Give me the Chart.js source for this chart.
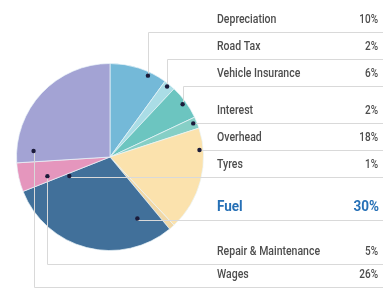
<!DOCTYPE html>
<html>
<head>
<meta charset="utf-8">
<script src="https://cdn.jsdelivr.net/npm/chart.js@4/dist/chart.umd.min.js"></script>
<style>
html,body{margin:0;padding:0;background:#ffffff;}
#wrap{width:383px;height:289px;position:relative;}
</style>
</head>
<body>
<div id="wrap"><canvas id="c"></canvas></div>
<script>
// ---- data ----
const categories = ["Depreciation","Road Tax","Vehicle Insurance","Interest","Overhead","Tyres","Fuel","Repair & Maintenance","Wages"];
const shares = [10, 2, 6, 2, 18, 1, 30, 5, 26];
const valueLabels = ["10%","2%","6%","2%","18%","1%","30%","5%","26%"];

// ---- styling ----
const sliceColors = ["#74b9d8","#aadde6","#6cc5c0","#86cfc6","#fbe2ad","#f1d8a6","#41709a","#e596bd","#a3a3d4"];
// leader anchors: angle (deg clockwise from top) and fraction of radius
const anchorAngles = [25, 39, 54, 68, 85.5, 245, 156, 253, 274.5];
const anchorRadii  = [0.96, 0.97, 0.96, 0.96, 0.96, 0.48, 0.72, 0.70, 0.82];
const rowLines = [32, 59, 86, 123, 150, 177, 220, 264, 287];

function narrowText(ctx, text, x, y, align, sx) {
  ctx.save();
  ctx.translate(x, y);
  ctx.scale(sx, 1);
  ctx.textAlign = align;
  ctx.fillText(text, 0, 0);
  ctx.restore();
}

const leaderPlugin = {
  id: 'leaders',
  afterDraw(chart) {
    const ctx = chart.ctx;
    const arc = chart.getDatasetMeta(0).data[0];
    const cx = arc.x, cy = arc.y, R = arc.outerRadius;
    const rightEdge = 383, labelX = 217, valueX = 378;
    ctx.save();
    ctx.strokeStyle = '#d9d9d9';
    ctx.lineWidth = 1;
    categories.forEach((c, i) => {
      const a = anchorAngles[i] * Math.PI / 180;
      const r = R * anchorRadii[i];
      const dx = Math.round(cx + r * Math.sin(a)) + 0.5;
      const dy = Math.round(cy - r * Math.cos(a)) + 0.5;
      const ry = rowLines[i] + 0.5;
      ctx.beginPath();
      ctx.moveTo(dx, dy);
      ctx.lineTo(dx, ry);
      ctx.lineTo(rightEdge, ry);
      ctx.stroke();
    });
    ctx.fillStyle = '#1b1b3a';
    categories.forEach((c, i) => {
      const a = anchorAngles[i] * Math.PI / 180;
      const r = R * anchorRadii[i];
      ctx.beginPath();
      ctx.arc(cx + r * Math.sin(a), cy - r * Math.cos(a), 2.2, 0, Math.PI * 2);
      ctx.fill();
    });
    ctx.textBaseline = 'middle';
    categories.forEach((c, i) => {
      const isFuel = c === 'Fuel';
      const ty = rowLines[i] - (isFuel ? 13 : 12.5);
      if (isFuel) {
        ctx.fillStyle = '#2670b6';
        ctx.font = 'bold 15px Roboto, "DejaVu Sans", sans-serif';
        narrowText(ctx, c, labelX, ty, 'left', 0.9);
        narrowText(ctx, valueLabels[i], valueX + 1, ty, 'right', 0.9);
      } else {
        ctx.fillStyle = '#4d4d4d';
        ctx.font = '500 12.5px Roboto, "DejaVu Sans", sans-serif';
        narrowText(ctx, c, labelX, ty, 'left', 0.84);
        narrowText(ctx, valueLabels[i], valueX, ty, 'right', 0.8);
      }
    });
    ctx.restore();
  }
};

new Chart(document.getElementById('c'), {
  type: 'pie',
  data: {
    labels: categories,
    datasets: [{
      data: shares,
      backgroundColor: sliceColors,
      borderColor: 'rgba(235,245,250,0.7)',
      borderWidth: 1
    }]
  },
  options: {
    responsive: true,
    maintainAspectRatio: false,
    animation: false,
    layout: { padding: { left: 16, right: 179, top: 63, bottom: 38 } },
    plugins: { legend: { display: false }, tooltip: { enabled: false } }
  },
  plugins: [leaderPlugin]
});
</script>
</body>
</html>
